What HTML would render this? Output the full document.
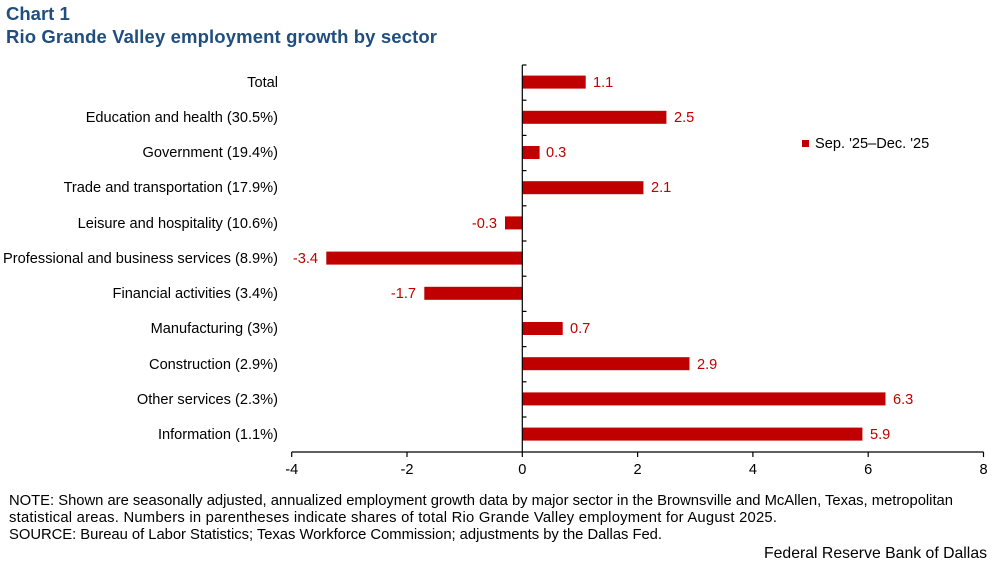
<!DOCTYPE html>
<html><head><style>
body{margin:0;background:#fff;}
svg{display:block;font-family:"Liberation Sans",Arial,sans-serif;}
</style></head><body>
<svg width="997" height="565" xmlns="http://www.w3.org/2000/svg">
<text x="6" y="20" font-size="18.5" font-weight="bold" fill="#1f4e7f">Chart 1</text>
<text x="6" y="43" font-size="18.5" font-weight="bold" fill="#1f4e7f" textLength="431">Rio Grande Valley employment growth by sector</text>
<g font-size="14.6" fill="#000" text-anchor="end">
<text x="278" y="87">Total</text>
<text x="278" y="122">Education and health (30.5%)</text>
<text x="278" y="157">Government (19.4%)</text>
<text x="278" y="192">Trade and transportation (17.9%)</text>
<text x="278" y="228">Leisure and hospitality (10.6%)</text>
<text x="278" y="263">Professional and business services (8.9%)</text>
<text x="278" y="298">Financial activities (3.4%)</text>
<text x="278" y="333">Manufacturing (3%)</text>
<text x="278" y="369">Construction (2.9%)</text>
<text x="278" y="404">Other services (2.3%)</text>
<text x="278" y="439">Information (1.1%)</text>
</g>
<g fill="#c00000">
<rect x="522.3" y="75.6" width="63.4" height="13"/>
<rect x="522.3" y="110.8" width="144.1" height="13"/>
<rect x="522.3" y="146" width="17.3" height="13"/>
<rect x="522.3" y="181.2" width="121.1" height="13"/>
<rect x="505" y="216.4" width="17.3" height="13"/>
<rect x="326.3" y="251.6" width="196" height="13"/>
<rect x="424.3" y="286.8" width="98" height="13"/>
<rect x="522.3" y="322" width="40.4" height="13"/>
<rect x="522.3" y="357.2" width="167.2" height="13"/>
<rect x="522.3" y="392.4" width="363.2" height="13"/>
<rect x="522.3" y="427.6" width="340.1" height="13"/>
</g>
<g font-size="14.6" fill="#c00000">
<text x="593" y="87">1.1</text>
<text x="674" y="122">2.5</text>
<text x="546" y="157">0.3</text>
<text x="651" y="192">2.1</text>
<text x="497" y="228" text-anchor="end">-0.3</text>
<text x="318" y="263" text-anchor="end">-3.4</text>
<text x="416" y="298" text-anchor="end">-1.7</text>
<text x="570" y="333">0.7</text>
<text x="697" y="369">2.9</text>
<text x="893" y="404">6.3</text>
<text x="870" y="439">5.9</text>
</g>
<g stroke="#000" stroke-width="1.2">
<line x1="522.3" y1="65" x2="522.3" y2="452"/>
<line x1="291.7" y1="452" x2="983.5" y2="452"/>
<line x1="291.7" y1="452" x2="291.7" y2="457"/>
<line x1="407" y1="452" x2="407" y2="457"/>
<line x1="522.3" y1="452" x2="522.3" y2="457"/>
<line x1="637.6" y1="452" x2="637.6" y2="457"/>
<line x1="752.9" y1="452" x2="752.9" y2="457"/>
<line x1="868.2" y1="452" x2="868.2" y2="457"/>
<line x1="983.5" y1="452" x2="983.5" y2="457"/>
<line x1="522.3" y1="65" x2="526.5" y2="65"/>
<line x1="522.3" y1="100.2" x2="526.5" y2="100.2"/>
<line x1="522.3" y1="135.4" x2="526.5" y2="135.4"/>
<line x1="522.3" y1="170.6" x2="526.5" y2="170.6"/>
<line x1="522.3" y1="205.8" x2="526.5" y2="205.8"/>
<line x1="522.3" y1="241" x2="526.5" y2="241"/>
<line x1="522.3" y1="276.2" x2="526.5" y2="276.2"/>
<line x1="522.3" y1="311.4" x2="526.5" y2="311.4"/>
<line x1="522.3" y1="346.6" x2="526.5" y2="346.6"/>
<line x1="522.3" y1="381.8" x2="526.5" y2="381.8"/>
<line x1="522.3" y1="417" x2="526.5" y2="417"/>
</g>
<g font-size="14.6" fill="#000" text-anchor="middle">
<text x="291.7" y="474">-4</text>
<text x="407" y="474">-2</text>
<text x="522.3" y="474">0</text>
<text x="637.6" y="474">2</text>
<text x="752.9" y="474">4</text>
<text x="868.2" y="474">6</text>
<text x="983.5" y="474">8</text>
</g>
<rect x="802" y="140" width="7" height="7" fill="#c00000"/>
<text x="815" y="148" font-size="14.6">Sep. '25–Dec. '25</text>
<g font-size="14.8" fill="#000">
<text x="9" y="505" textLength="944">NOTE: Shown are seasonally adjusted, annualized employment growth data by major sector in the Brownsville and McAllen, Texas, metropolitan</text>
<text x="9" y="522" textLength="768">statistical areas. Numbers in parentheses indicate shares of total Rio Grande Valley employment for August 2025.</text>
<text x="9" y="539" textLength="653">SOURCE: Bureau of Labor Statistics; Texas Workforce Commission; adjustments by the Dallas Fed.</text>
<text x="987" y="558" text-anchor="end" font-size="15.8">Federal Reserve Bank of Dallas</text>
</g>
</svg>
</body></html>
